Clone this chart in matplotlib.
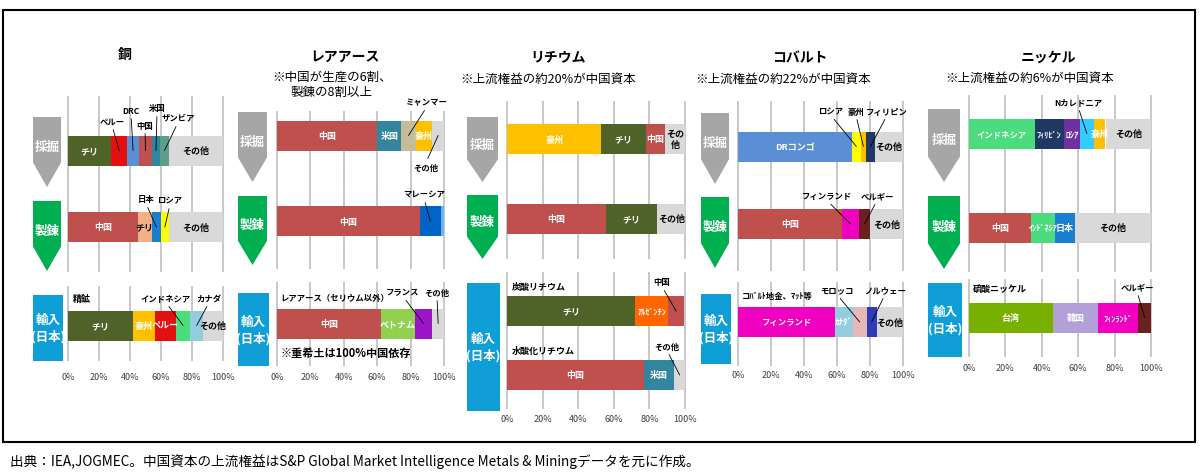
import matplotlib
matplotlib.use("Agg")
import matplotlib.pyplot as plt
from matplotlib.patches import Polygon, Rectangle

plt.rcParams["font.family"] = ["Noto Sans CJK JP", "DejaVu Sans"]

# ---- data (shares in %) ----
# 銅
cu_mine_names = ["チリ", "ペルー", "DRC", "中国", "米国", "ザンビア", "その他"]
cu_mine_share = [28, 10, 8, 8, 5.5, 5.5, 35]
cu_smelt_names = ["中国", "チリ", "日本", "ロシア", "その他"]
cu_smelt_share = [45, 9, 6, 5, 35]
cu_imp_names = ["チリ", "豪州", "ペルー", "インドネシア", "カナダ", "その他"]
cu_imp_share = [42, 14, 13.5, 9.5, 8, 13]

# レアアース
re_mine_names = ["中国", "米国", "ミャンマー", "豪州", "その他"]
re_mine_share = [60, 14.5, 8.5, 10, 7]
re_smelt_names = ["中国", "マレーシア", ""]
re_smelt_share = [85.5, 12.5, 2]
re_imp_names = ["中国", "ベトナム", "フランス", "その他"]
re_imp_share = [62, 20.5, 10.5, 7]

# リチウム
li_mine_names = ["豪州", "チリ", "中国", "その\n他"]
li_mine_share = [53, 25, 11, 11]
li_smelt_names = ["中国", "チリ", "その他"]
li_smelt_share = [55.5, 29, 15.5]
li_carb_names = ["チリ", "ｱﾙｾﾞﾝﾁﾝ", "中国"]
li_carb_share = [72, 18.5, 9]
li_hydr_names = ["中国", "米国", "その他"]
li_hydr_share = [77, 17, 6]

# コバルト
co_mine_names = ["DRコンゴ", "ロシア", "豪州", "フィリピン", "その他"]
co_mine_share = [69, 5.5, 3, 5.5, 17]
co_smelt_names = ["中国", "フィンランド", "ベルギー", "その他"]
co_smelt_share = [63, 10.5, 6.5, 20]
co_imp_names = ["フィンランド", "ｶﾅﾀﾞ", "モロッコ", "ノルウェー", "その他"]
co_imp_share = [59, 10.5, 8.5, 6, 16]

# ニッケル
ni_mine_names = ["インドネシア", "ﾌｨﾘﾋﾟﾝ", "ﾛｼｱ", "Nカレドニア", "豪州", "その他"]
ni_mine_share = [36, 16, 9, 7.5, 6.5, 25]
ni_smelt_names = ["中国", "ｲﾝﾄﾞﾈｼｱ", "日本", "その他"]
ni_smelt_share = [34, 13.5, 10.5, 42]
ni_imp_names = ["台湾", "韓国", "ﾌｨﾝﾗﾝﾄﾞ", "ベルギー"]
ni_imp_share = [46, 25, 22, 7]

titles = ["銅", "レアアース", "リチウム", "コバルト", "ニッケル"]
subtitles = ["", "※中国が生産の6割、\n製錬の8割以上", "※上流権益の約20%が中国資本",
             "※上流権益の約22%が中国資本", "※上流権益の約6%が中国資本"]
tick_labels = ["0%", "20%", "40%", "60%", "80%", "100%"]
source = "出典：IEA,JOGMEC。中国資本の上流権益はS&P Global Market Intelligence Metals & Miningデータを元に作成。"

# ---- colours ----
OLIVE = "#4f6228"
RED = "#e31010"
CHINA = "#c0504d"
DRC = "#5a8fd6"
USA = "#31859c"
OTHER = "#d9d9d9"
AUS = "#ffc000"
JAPAN = "#1a7fd0"
YELLOW = "#ffff00"
PEACH = "#f4b183"
INDO = "#4bdc7e"
CANADA = "#93cddd"
KHAKI = "#c4bd97"
MALAY = "#0063c6"
VIET = "#92d050"
FRANCE = "#9b14c8"
ARG = "#ff6600"
NAVY = "#1f3864"
MAGENTA = "#f000c0"
BELGIUM = "#6b2020"
MOROCCO = "#e6b9b8"
NORWAY = "#2e3cb8"
CYAN = "#33ccff"
PURPLE = "#7030a0"
TAIWAN = "#78b000"
KOREA = "#b4a0d8"
GRID = "#c4c4c4"

DARK_TEXT = {OTHER, PEACH}

W, H = 1200, 477
fig = plt.figure(figsize=(12, 4.77), dpi=100)
fig.patch.set_facecolor("white")

over = fig.add_axes([0, 0, 1, 1])
over.set_xlim(0, W)
over.set_ylim(H, 0)
over.axis("off")

over.add_patch(Rectangle((3, 11), 1192, 432, fill=False, ec="black", lw=1.5))
over.text(10, 462, source, fontsize=9.8, va="center", ha="left")

BAR_H = 30
M = 2  # x margin (%) so the 0/100 grid lines are not clipped


def panel_axes(x0, x1, y0, y1):
    span = x1 - x0
    ax = fig.add_axes([(x0 - span * M / 100) / W, 1 - y1 / H,
                       span * (1 + 2 * M / 100) / W, (y1 - y0) / H])
    ax.set_xlim(-M, 100 + M)
    ax.set_ylim(y1, y0)
    ax.set_facecolor("none")
    for s in ax.spines.values():
        s.set_visible(False)
    ax.set_xticks(range(0, 101, 20))
    ax.xaxis.grid(True, color=GRID, lw=1.3)
    ax.set_axisbelow(True)
    ax.set_yticks([])
    ax.tick_params(length=0, labelbottom=False)
    return ax


def bar_row(ax, y, names, shares, colors, callouts):
    left = 0
    for name, share, col in zip(names, shares, colors):
        ax.barh(y, share, left=left, height=BAR_H, color=col, zorder=2)
        mid = left + share / 2
        if name in callouts:
            tx, ty = callouts[name]
            ax.annotate(name, xy=(mid, y), xytext=(tx, ty), textcoords=over.transData,
                        ha="center", va="center", fontsize=6, fontweight="bold",
                        arrowprops=dict(arrowstyle="-", lw=0.6, color="black",
                                        shrinkA=1, shrinkB=0,
                                        relpos=(0.5, 0) if ty < y else (0.5, 1)),
                        zorder=4)
        elif name:
            fs = 6 if len(name) > 5 else 6.5
            ax.text(mid, y, name, ha="center", va="center", fontsize=fs,
                    fontweight="bold", zorder=3,
                    color="black" if col in DARK_TEXT else "white")
        left += share


def stage_arrow(x0, x1, top, bot, color, label):
    neck = top + 0.65 * (bot - top)
    pts = [(x0, top), (x1, top), (x1, neck), ((x0 + x1) / 2, bot), (x0, neck)]
    over.add_patch(Polygon(pts, closed=True, fc=color, ec="none"))
    over.text((x0 + x1) / 2, top + 0.42 * (bot - top), label, color="white",
              ha="center", va="center", fontsize=9, fontweight="bold")


def stage_box(x0, x1, top, bot):
    over.add_patch(Rectangle((x0, top), x1 - x0, bot - top, fc="#0f9ed5", ec="none"))
    over.text((x0 + x1) / 2, (top + bot) / 2, "輸入\n(日本)", color="white",
              ha="center", va="center", fontsize=9, fontweight="bold", linespacing=1.3)


panels = [
    dict(x=(68, 223), top=(97, 273), bot=(287, 362), tick_y=378, title=(125, 55), sub=None,
         stage_x=(33, 61), mine=(118, 188), smelt=(202, 272), imp=(296, 362),
         rows=[
             ("top", 151.5, cu_mine_names, cu_mine_share, [OLIVE, RED, DRC, CHINA, USA, "#5e9c8c", OTHER],
              {"ペルー": (112, 122), "DRC": (131, 111), "中国": (145, 126), "米国": (157, 109), "ザンビア": (178, 119)}),
             ("top", 228, cu_smelt_names, cu_smelt_share, [CHINA, PEACH, JAPAN, YELLOW, OTHER],
              {"日本": (146, 200), "ロシア": (170, 201)}),
             ("bot", 326.5, cu_imp_names, cu_imp_share, [OLIVE, AUS, RED, INDO, CANADA, OTHER],
              {"インドネシア": (166, 299), "カナダ": (209, 299)}),
         ],
         notes=[(73, 299, "精鉱", 6.5)]),
    dict(x=(277, 444), top=(112, 270), bot=(283, 367), tick_y=378, title=(345, 57), sub=(332, 85),
         stage_x=(238, 267), mine=(113, 183), smelt=(197, 266), imp=(294, 367),
         rows=[
             ("top", 136.5, re_mine_names, re_mine_share, [CHINA, USA, KHAKI, AUS, OTHER],
              {"ミャンマー": (427, 103), "その他": (426, 168)}),
             ("top", 222, re_smelt_names, re_smelt_share, [CHINA, MALAY, "#6ab4f0"],
              {"マレーシア": (424, 195)}),
             ("bot", 324.5, re_imp_names, re_imp_share, [CHINA, VIET, FRANCE, OTHER],
              {"フランス": (403, 293), "その他": (437, 293)}),
         ],
         notes=[(280, 299, "レアアース（セリウム以外）", 6), (280, 354, "※重希土は100%中国依存", 8)]),
    dict(x=(507, 685), top=(102, 260), bot=(273, 410), tick_y=420, title=(558, 57), sub=(548, 79),
         stage_x=(467, 498), mine=(118, 183), smelt=(196, 260), imp=(284, 412),
         rows=[
             ("top", 140, li_mine_names, li_mine_share, [AUS, OLIVE, CHINA, OTHER], {}),
             ("top", 219.5, li_smelt_names, li_smelt_share, [CHINA, OLIVE, OTHER], {}),
             ("bot", 312, li_carb_names, li_carb_share, [OLIVE, ARG, CHINA], {"中国": (662, 283)}),
             ("bot", 376, li_hydr_names, li_hydr_share, [CHINA, USA, OTHER], {"その他": (667, 347)}),
         ],
         notes=[(512, 287, "炭酸リチウム", 6.5), (512, 351, "水酸化リチウム", 6.5)]),
    dict(x=(738, 903), top=(102, 272), bot=(283, 367), tick_y=376, title=(800, 58), sub=(783, 79),
         stage_x=(701, 729), mine=(114, 185), smelt=(198, 269), imp=(295, 365),
         rows=[
             ("top", 147.5, co_mine_names, co_mine_share, [DRC, YELLOW, AUS, NAVY, OTHER],
              {"ロシア": (831, 112), "豪州": (856, 112), "フィリピン": (887, 112)}),
             ("top", 225, co_smelt_names, co_smelt_share, [CHINA, MAGENTA, BELGIUM, OTHER],
              {"フィンランド": (827, 197), "ベルギー": (877, 197)}),
             ("bot", 323, co_imp_names, co_imp_share, [MAGENTA, CANADA, MOROCCO, NORWAY, OTHER],
              {"モロッコ": (837, 291), "ノルウェー": (885, 291)}),
         ],
         notes=[(742, 297, "コﾊﾞﾙﾄ地金、ﾏｯﾄ等", 6)]),
    dict(x=(969, 1151), top=(96, 273), bot=(280, 358), tick_y=369, title=(1048, 58), sub=(1030, 78),
         stage_x=(928, 960), mine=(110, 183), smelt=(197, 270), imp=(284, 358),
         rows=[
             ("top", 134.5, ni_mine_names, ni_mine_share, [INDO, NAVY, PURPLE, CYAN, AUS, OTHER],
              {"Nカレドニア": (1078, 103)}),
             ("top", 228.5, ni_smelt_names, ni_smelt_share, [CHINA, INDO, JAPAN, OTHER], {}),
             ("bot", 318.5, ni_imp_names, ni_imp_share, [TAIWAN, KOREA, MAGENTA, BELGIUM],
              {"ベルギー": (1137, 288)}),
         ],
         notes=[(973, 289, "硫酸ニッケル", 6.5)]),
]

for i, p in enumerate(panels):
    x0, x1 = p["x"]
    ax_top = panel_axes(x0, x1, *p["top"])
    ax_bot = panel_axes(x0, x1, *p["bot"])
    ax_bot.tick_params(labelbottom=True, labelsize=6.5, labelcolor="#404040",
                       pad=(p["tick_y"] - p["bot"][1] - 5) / 1.39)
    ax_bot.set_xticklabels(tick_labels)

    for group, y, names, shares, colors, callouts in p["rows"]:
        bar_row(ax_top if group == "top" else ax_bot, y, names, shares, colors, callouts)

    over.text(*p["title"], titles[i], ha="center", va="center", fontsize=10, fontweight="bold")
    if p["sub"]:
        over.text(*p["sub"], subtitles[i], ha="center", va="center", fontsize=9,
                  multialignment="center", linespacing=1.2)
    # row notes sit inside the import axes so they are drawn above the grid lines
    for nx, ny, txt, fs in p["notes"]:
        ax_bot.text(nx, ny, txt, transform=over.transData, ha="left", va="center",
                    fontsize=fs, fontweight="bold", zorder=5)

    sx0, sx1 = p["stage_x"]
    stage_arrow(sx0, sx1, *p["mine"], "#a6a6a6", "採掘")
    stage_arrow(sx0, sx1, *p["smelt"], "#00b050", "製錬")
    stage_box(sx0, sx1 + 2, *p["imp"])

fig.savefig("out.png", dpi=100, facecolor="white")
